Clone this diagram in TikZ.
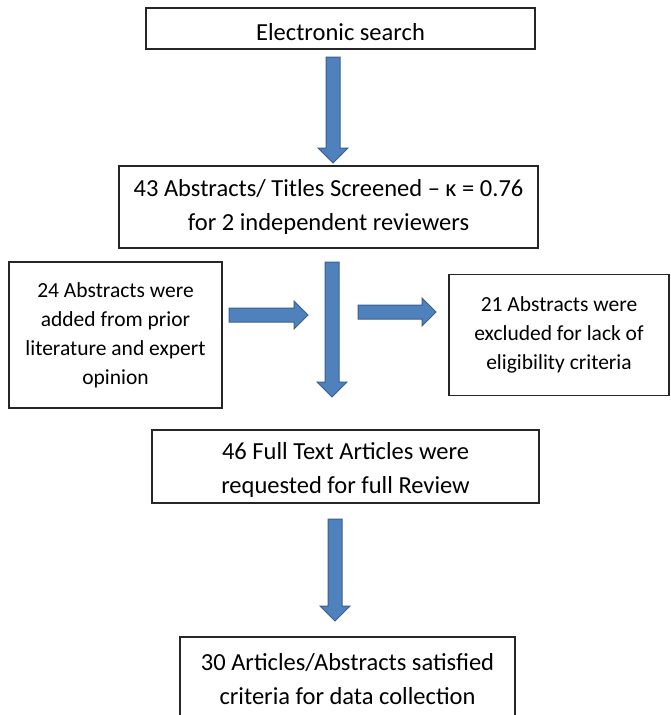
\documentclass[tikz,border=0pt]{standalone}
\usepackage{fontspec}
\setmainfont{Carlito}
\usetikzlibrary{calc}
\definecolor{arrowblue}{HTML}{4F81BD}
\definecolor{arrowedge}{HTML}{3A5F8F}
\tikzset{
  flowbox/.style={draw=black!85, line width=1.2pt, fill=white, inner sep=0pt, align=center},
  bigtext/.style={font=\fontsize{24.5}{34}\selectfont},
  smalltext/.style={font=\fontsize{21.5}{29}\selectfont},
  blockarrow/.style={fill=arrowblue, draw=arrowedge, line width=1pt, line join=miter}
}
\newcommand{\lowerstrut}{\rule{0pt}{24pt}}
\newcommand{\varrowblk}[2]{%
  \filldraw[blockarrow] let \p1=(#1), \p2=(#2) in
    (\x1-7pt,\y1) -- (\x1+7pt,\y1) -- (\x1+7pt,\y2+15pt) -- (\x1+15pt,\y2+15pt)
    -- (\x1,\y2) -- (\x1-15pt,\y2+15pt) -- (\x1-7pt,\y2+15pt) -- cycle;}
\newcommand{\harrowblk}[2]{%
  \filldraw[blockarrow] let \p1=(#1), \p2=(#2) in
    (\x1,\y1-7pt) -- (\x2-14pt,\y1-7pt) -- (\x2-14pt,\y1-14pt) -- (\x2,\y1)
    -- (\x2-14pt,\y1+14pt) -- (\x2-14pt,\y1+7pt) -- (\x1,\y1+7pt) -- cycle;}
\begin{document}
\begin{tikzpicture}[x=1pt,y=-1pt]
\useasboundingbox (0,0) rectangle (671,715);
\clip (0,0) rectangle (671,715);
\fill[white] (0,0) rectangle (671,715);

\node[flowbox, bigtext, minimum width=389pt, minimum height=41pt] (b1) at (340.5,28.5) {\lowerstrut Electronic search};
\node[flowbox, bigtext, minimum width=419pt, minimum height=82pt] (b2) at (328.5,207) {43 Abstracts/ Titles Screened -- κ = 0.76\\for 2 independent reviewers};
\node[flowbox, smalltext, minimum width=213pt, minimum height=146pt] (bl) at (115.5,335) {24 Abstracts were\\added from prior\\literature and expert\\opinion};
\node[flowbox, smalltext, minimum width=220pt, minimum height=121pt] (br) at (559,335) {21 Abstracts were\\excluded for lack of\\eligibility criteria};
\node[flowbox, bigtext, minimum width=387pt, minimum height=73pt] (b4) at (345.5,466.5) {\lowerstrut 46 Full Text Articles were\\requested for full Review};
\node[flowbox, bigtext, minimum width=335pt, minimum height=85pt] (b5) at (347.5,679.5) {30 Articles/Abstracts satisfied\\criteria for data collection};

\coordinate (a1s) at (333,57);
\coordinate (a1e) at (333,163);
\coordinate (a2s) at (332,262);
\coordinate (a2e) at (332,397);
\coordinate (a3s) at (335,519);
\coordinate (a3e) at (335,621);
\coordinate (ls) at (229,315);
\coordinate (le) at (308,315);
\coordinate (rs) at (358,312);
\coordinate (re) at (436,312);

\varrowblk{a1s}{a1e}
\varrowblk{a2s}{a2e}
\varrowblk{a3s}{a3e}
\harrowblk{ls}{le}
\harrowblk{rs}{re}
\end{tikzpicture}
\end{document}
